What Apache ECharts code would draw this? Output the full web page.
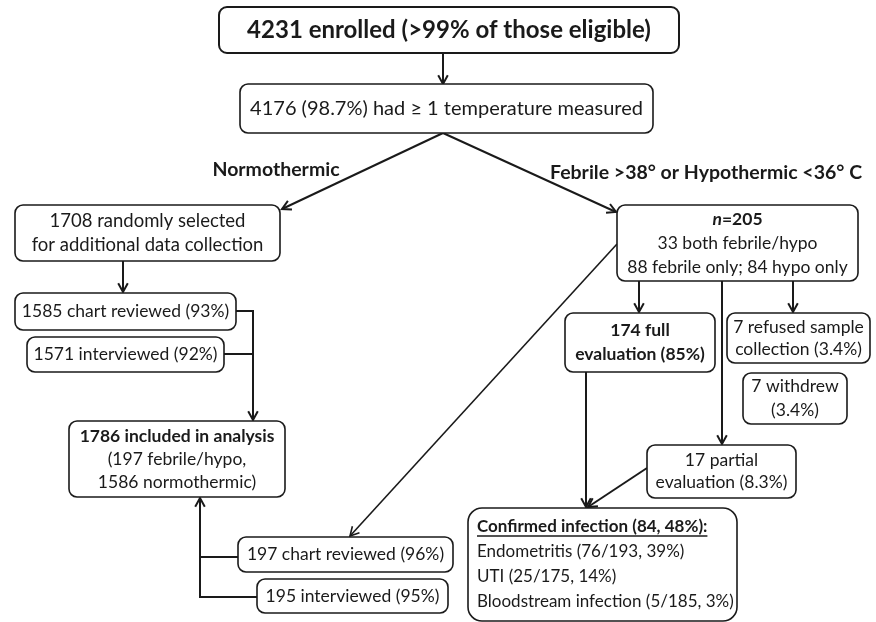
<!DOCTYPE html>
<html>
<head>
<meta charset="utf-8">
<script src="https://cdn.jsdelivr.net/npm/echarts@6/dist/echarts.min.js"></script>
<style>
  html, body { margin: 0; background: #fff; }
  #main { width: 876px; height: 622px; }
</style>
</head>
<body>
<div id="main"></div>
<script>
const FAMILY = 'Lato, "Open Sans", sans-serif'
const INK = '#1a1a1a'

// text of each box, one entry per line: [text, weight]
const boxTexts = [
  [['4231 enrolled (>99% of those eligible)', 'bold']],
  [['4176 (98.7%) had \u2265 1 temperature measured', 'normal']],
  [['1708 randomly selected', 'normal'], ['for additional data collection', 'normal']],
  [['1585 chart reviewed (93%)', 'normal']],
  [['1571 interviewed (92%)', 'normal']],
  [['1786 included in analysis', 'bold'], ['(197 febrile/hypo,', 'normal'], ['1586 normothermic)', 'normal']],
  [['197 chart reviewed (96%)', 'normal']],
  [['195 interviewed (95%)', 'normal']],
  [['{i|n}{b|=205}', 'rich'], ['33 both febrile/hypo', 'normal'], ['88 febrile only; 84 hypo only', 'normal']],
  [['174 full', 'bold'], ['evaluation (85%)', 'bold']],
  [['7 refused sample', 'normal'], ['collection (3.4%)', 'normal']],
  [['7 withdrew', 'normal'], ['(3.4%)', 'normal']],
  [['17 partial', 'normal'], ['evaluation (8.3%)', 'normal']],
  [['Confirmed infection (84, 48%):', 'underline'], ['Endometritis (76/193, 39%)', 'normal'], ['UTI (25/175, 14%)', 'normal'], ['Bloodstream infection (5/185, 3%)', 'normal']]
]

// box corners in diagram units: [x0, y0, x1, y1]
const boxCorners = [
  [219, 7, 679, 53],
  [240, 84, 653, 133],
  [15, 205, 280, 261],
  [15, 293, 236, 330],
  [27, 337, 224, 372],
  [69, 421, 285, 497],
  [238, 537, 453, 572],
  [257, 579, 448, 613],
  [617, 205, 858, 281],
  [565, 313, 715, 372],
  [727, 313, 870, 363],
  [743, 373, 847, 424],
  [647, 445, 796, 498],
  [468, 508, 737, 621]
]
const boxFontSize = [24, 20, 18.5, 17.5, 17.5, 17.5, 17.5, 17.5, 17.5, 17.5, 17.5, 17.5, 17.5, 17]
const boxLineGap = [0, 0, 24, 0, 0, 23, 0, 0, 24, 24, 22, 24, 22, 25]
const boxAlign = ['center', 'center', 'center', 'center', 'center', 'center', 'center',
  'center', 'center', 'center', 'center', 'center', 'center', 'left']

// connectors: point lists, and whether they end in an arrow
const connectorPaths = [
  [[443, 53], [443, 84]],
  [[443, 133], [282, 209]],
  [[443, 133], [616, 212]],
  [[123, 261], [123, 292]],
  [[236, 311], [253, 311], [253, 420]],
  [[224, 354], [253, 354]],
  [[238, 557], [200, 557]],
  [[257, 597], [200, 597], [200, 498]],
  [[617, 244], [350, 536]],
  [[639, 281], [639, 312]],
  [[793, 281], [793, 312]],
  [[722, 281], [722, 444]],
  [[586, 372], [586, 507]],
  [[647, 468], [588, 507]]
]
const connectorArrow = [true, true, true, true, true, false, false, true, true, true, true, true, true, true]
const connectorWidth = [2, 2, 2, 2, 2, 2, 2, 2, 1.6, 2, 2, 2, 2, 2]

// branch headings
const branchTexts = ['Normothermic', 'Febrile >38\u00b0 or Hypothermic <36\u00b0 C']
const branchAnchors = [[276, 170], [706, 173]]

function fontOf(weight, size) {
  if (weight === 'normal') return size + 'px ' + FAMILY
  return 'bold ' + size + 'px ' + FAMILY
}

const measureCtx = document.createElement('canvas').getContext('2d')
function textWidth(str, font) {
  measureCtx.font = font
  return measureCtx.measureText(str).width
}

function renderBox(params, api) {
  const i = params.dataIndex
  const p0 = api.coord([api.value(0), api.value(1)])
  const p1 = api.coord([api.value(2), api.value(3)])
  const w = p1[0] - p0[0]
  const h = p1[1] - p0[1]
  const lines = boxTexts[i]
  const gap = boxLineGap[i]
  const align = boxAlign[i]
  const size = boxFontSize[i]
  const cy = p0[1] + h / 2
  const children = [{
    type: 'rect',
    shape: { x: p0[0], y: p0[1], width: w, height: h, r: i === 13 ? 14 : 8 },
    style: { fill: '#fff', stroke: INK, lineWidth: i === 0 ? 2 : 1.6 }
  }]
  lines.forEach((ln, k) => {
    const y = cy + (k - (lines.length - 1) / 2) * gap
    const x = align === 'left' ? p0[0] + 9 : p0[0] + w / 2
    const font = fontOf(ln[1], size)
    const style = {
      text: ln[0], x: x, y: y, fill: INK, font: font,
      align: align, textAlign: align, verticalAlign: 'middle', textVerticalAlign: 'middle'
    }
    if (ln[1] === 'rich') {
      style.rich = {
        i: { font: 'italic bold ' + size + 'px ' + FAMILY, fill: INK },
        b: { font: 'bold ' + size + 'px ' + FAMILY, fill: INK }
      }
    }
    children.push({ type: 'text', style: style })
    if (ln[1] === 'underline') {
      const tw = textWidth(ln[0], font)
      children.push({
        type: 'line',
        shape: { x1: x, y1: y + 9, x2: x + tw, y2: y + 9 },
        style: { stroke: INK, lineWidth: 1.3 }
      })
    }
  })
  return { type: 'group', children: children }
}

function renderConnector(params, api) {
  const i = params.dataIndex
  const pts = connectorPaths[i].map(p => api.coord(p))
  const children = [{
    type: 'polyline',
    shape: { points: pts },
    style: { stroke: INK, lineWidth: connectorWidth[i], fill: null }
  }]
  if (connectorArrow[i]) {
    const a = pts[pts.length - 2]
    const b = pts[pts.length - 1]
    const ang = Math.atan2(b[1] - a[1], b[0] - a[0])
    const len = 10
    const spread = 0.5
    children.push({
      type: 'polyline',
      shape: {
        points: [
          [b[0] - len * Math.cos(ang - spread), b[1] - len * Math.sin(ang - spread)],
          b,
          [b[0] - len * Math.cos(ang + spread), b[1] - len * Math.sin(ang + spread)]
        ]
      },
      style: { stroke: INK, lineWidth: connectorWidth[i], fill: null }
    })
  }
  return { type: 'group', children: children }
}

function renderBranch(params, api) {
  const i = params.dataIndex
  const p = api.coord([api.value(0), api.value(1)])
  return {
    type: 'text',
    style: {
      text: branchTexts[i], x: p[0], y: p[1], fill: INK, font: 'bold 19.5px ' + FAMILY,
      align: 'center', textAlign: 'center', verticalAlign: 'middle', textVerticalAlign: 'middle'
    }
  }
}

const chart = echarts.init(document.getElementById('main'))
chart.setOption({
  animation: false,
  backgroundColor: '#fff',
  grid: { left: 0, right: 0, top: 0, bottom: 0 },
  xAxis: { type: 'value', min: 0, max: 876, show: false },
  yAxis: { type: 'value', min: 0, max: 622, inverse: true, show: false },
  series: [
    {
      type: 'custom',
      renderItem: renderConnector,
      data: connectorPaths.map(p => [p[0][0], p[0][1]]),
      encode: { x: 0, y: 1 },
      z: 1
    },
    {
      type: 'custom',
      renderItem: renderBox,
      data: boxCorners,
      encode: { x: [0, 2], y: [1, 3] },
      z: 2
    },
    {
      type: 'custom',
      renderItem: renderBranch,
      data: branchAnchors,
      encode: { x: 0, y: 1 },
      z: 3
    }
  ]
})
</script>
</body>
</html>
